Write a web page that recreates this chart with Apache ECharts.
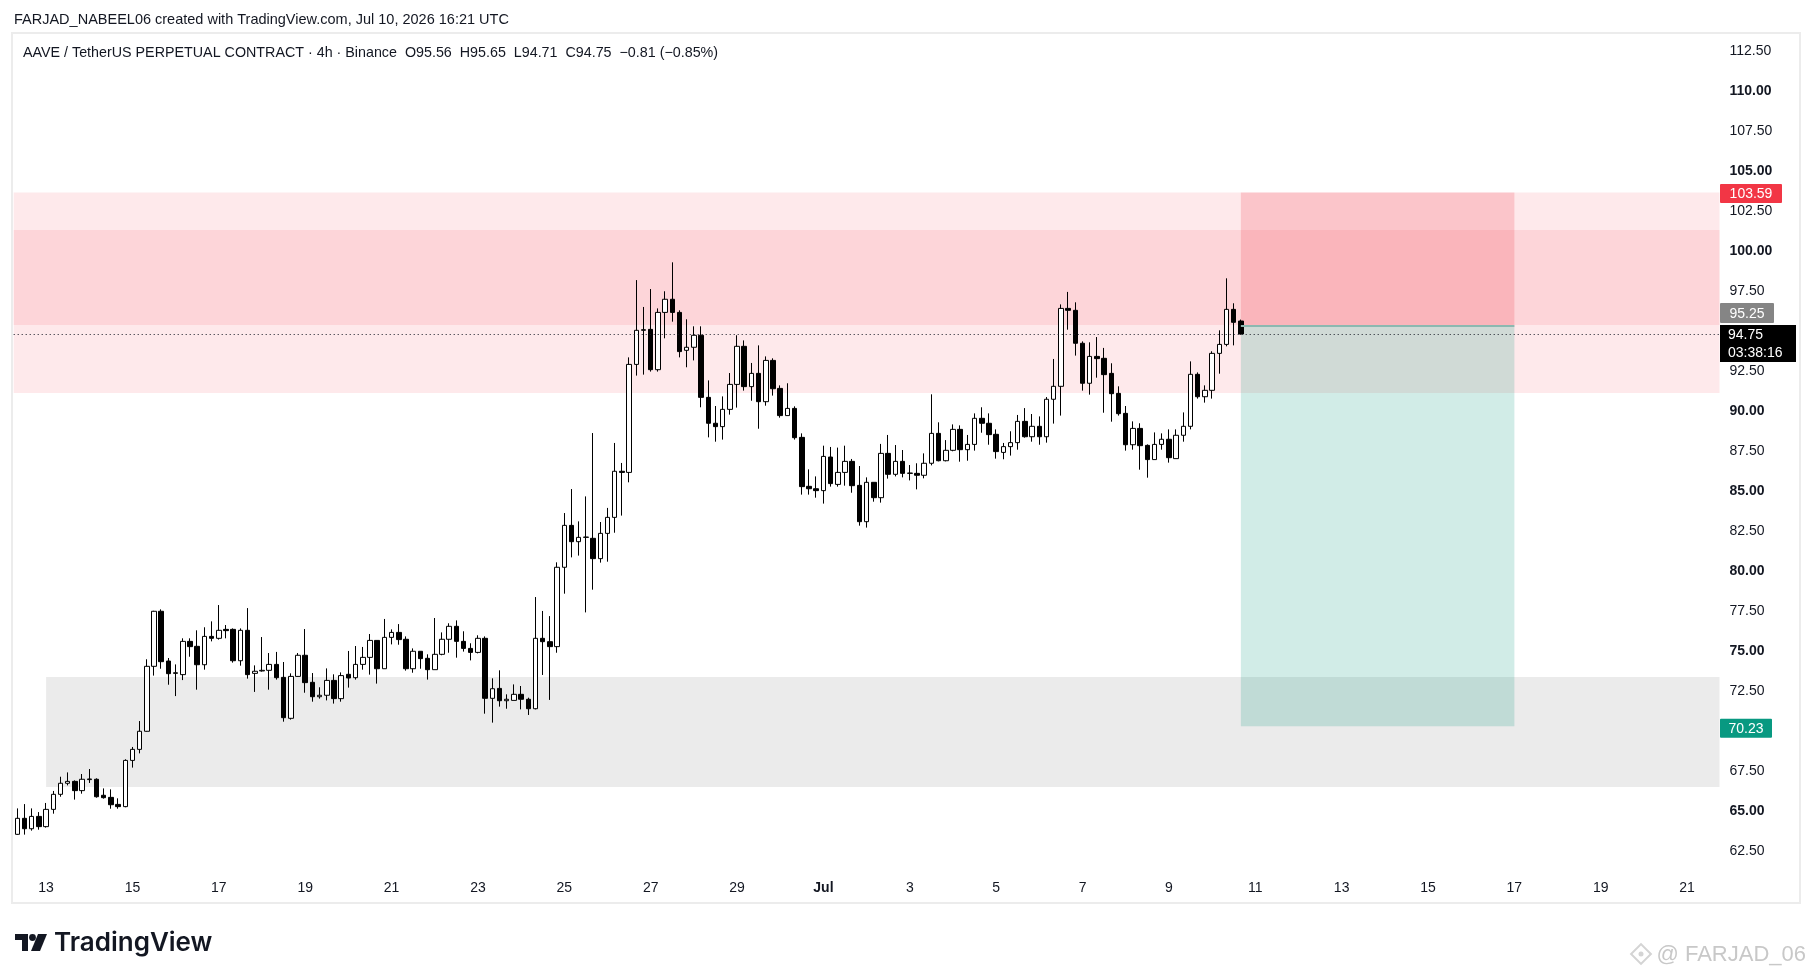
<!DOCTYPE html>
<html>
<head>
<meta charset="utf-8">
<title>AAVE / TetherUS 4h</title>
<script src="https://cdn.jsdelivr.net/npm/echarts@6/dist/echarts.min.js"></script>
<style>
  html, body { margin: 0; padding: 0; background: #fff; }
  #main { width: 1814px; height: 980px; }
</style>
</head>
<body>
<div id="main"></div>
<script>
// 4h candles, first one Jun 12 2026 08:00 UTC -- rows are [open, high, low, close]
var ohlc = [
  [63.48,65.10,63.45,64.48],[64.48,65.37,63.46,63.83],[63.83,65.10,63.71,64.60],[64.60,64.87,63.77,63.96],
  [63.96,65.44,63.90,65.04],[65.04,66.19,64.77,65.98],[65.98,67.08,65.83,66.67],[66.67,67.35,66.54,66.79],
  [66.79,66.85,65.65,66.21],[66.21,67.25,66.02,66.92],[66.90,67.56,66.69,66.94],[66.92,66.98,65.77,65.83],
  [65.92,66.35,65.71,65.77],[65.79,66.29,65.08,65.33],[65.35,65.73,65.08,65.21],[65.21,68.17,65.17,68.10],
  [68.10,68.94,67.65,68.79],[68.79,70.56,68.54,69.92],[69.92,74.42,69.90,73.98],[73.98,77.45,73.40,77.42],
  [77.42,77.54,73.83,74.27],[74.31,74.50,72.83,73.52],[73.54,74.10,72.12,73.58],[73.46,75.73,73.12,75.54],
  [75.54,75.73,74.58,75.21],[75.23,76.23,72.52,74.08],[74.08,76.42,73.77,75.85],[75.85,76.79,75.54,75.73],
  [75.73,77.81,75.65,76.23],[76.29,76.56,75.73,76.21],[76.29,76.35,74.21,74.33],[74.33,76.35,74.02,76.23],
  [76.23,77.62,73.21,73.46],[73.54,74.04,72.38,73.67],[73.69,75.81,73.65,73.73],[73.73,74.81,72.52,74.10],
  [74.10,74.88,73.15,73.27],[73.29,74.25,70.52,70.77],[70.73,73.54,70.65,73.35],[73.35,74.81,73.33,74.67],
  [74.67,76.31,72.33,72.96],[72.98,73.56,71.77,72.08],[72.08,72.67,71.96,72.17],[72.17,73.85,71.85,73.10],
  [73.10,73.48,71.65,71.96],[71.96,73.60,71.77,73.40],[73.48,74.94,72.65,73.25],[73.27,75.25,73.15,74.10],
  [74.10,75.19,73.77,74.54],[74.54,76.00,73.46,75.60],[75.60,75.60,72.90,73.83],[73.83,76.94,73.83,75.79],
  [75.79,76.29,75.35,76.10],[76.10,76.62,75.33,75.65],[75.67,75.85,73.71,73.83],[73.83,75.10,73.58,74.92],
  [74.92,74.92,73.83,74.46],[74.48,74.73,73.15,73.77],[73.77,77.00,73.77,74.73],[74.73,76.10,74.67,75.67],
  [75.67,76.67,74.83,76.48],[76.48,76.85,74.52,75.54],[75.54,76.17,74.90,75.10],[75.10,75.42,74.35,74.85],
  [74.85,75.92,74.79,75.73],[75.73,75.85,71.02,71.98],[71.98,73.23,70.46,72.58],[72.60,73.73,71.46,71.83],
  [71.83,72.23,71.33,71.92],[71.85,72.85,71.85,72.23],[72.23,72.75,71.29,71.92],[71.92,72.02,70.94,71.33],
  [71.33,78.31,71.29,75.73],[75.73,77.44,73.44,75.52],[75.52,77.12,71.88,75.21],[75.21,80.48,74.83,80.17],
  [80.17,83.56,78.52,82.79],[82.79,85.06,80.79,81.77],[81.77,83.04,80.90,82.04],[82.04,84.60,77.35,82.06],
  [81.98,88.56,78.77,80.71],[80.71,83.00,80.46,82.29],[82.29,83.88,80.52,83.29],[83.29,87.94,82.33,86.17],
  [86.17,86.69,83.40,86.10],[86.10,93.29,85.48,92.85],[92.85,98.12,92.15,94.98],[94.98,96.44,92.21,95.02],
  [95.04,97.56,92.40,92.52],[92.52,96.35,92.40,96.10],[96.10,97.42,94.48,96.92],[96.92,99.23,95.52,96.10],
  [96.10,96.23,93.29,93.65],[93.73,95.67,92.67,93.92],[93.92,95.23,93.10,94.67],[94.67,95.23,90.17,90.79],
  [90.79,91.85,88.29,89.17],[89.17,90.25,88.02,88.96],[88.96,90.85,88.15,90.04],[90.04,92.31,89.71,91.60],
  [91.60,94.67,90.15,93.98],[93.98,94.35,91.21,91.46],[91.46,92.94,90.58,92.29],[92.29,94.04,88.83,90.52],
  [90.52,93.35,90.27,93.10],[93.10,93.23,90.90,91.33],[91.35,91.54,89.52,89.65],[89.65,91.67,89.65,90.10],
  [90.10,90.23,88.15,88.27],[88.29,88.54,84.71,85.21],[85.23,86.29,84.71,85.08],[85.08,85.85,84.52,84.96],
  [84.96,87.77,84.15,87.10],[87.06,87.69,85.21,85.40],[85.35,87.65,85.21,86.10],[86.10,87.77,85.27,86.79],
  [86.79,86.94,84.83,85.27],[85.29,86.50,82.77,83.02],[83.02,85.79,82.65,85.48],[85.48,85.48,84.27,84.52],
  [84.52,87.88,84.21,87.29],[87.29,88.44,85.71,85.98],[85.98,87.81,85.85,86.79],[86.79,87.50,85.79,86.04],
  [86.04,86.56,85.60,86.06],[86.04,86.67,85.04,85.92],[85.92,87.29,85.73,86.67],[86.67,90.98,86.54,88.54],
  [88.54,89.23,86.79,86.83],[86.83,88.12,86.79,87.48],[87.48,89.10,87.42,88.79],[88.79,89.04,86.77,87.52],
  [87.52,88.44,86.83,87.85],[87.85,89.79,87.46,89.48],[89.48,90.17,88.58,89.17],[89.17,89.79,87.83,88.46],
  [88.48,88.79,86.96,87.40],[87.35,87.94,86.92,87.71],[87.71,88.67,87.15,87.96],[87.96,89.69,87.52,89.29],
  [89.29,90.12,88.27,88.33],[88.33,89.75,88.02,88.98],[88.98,89.60,87.83,88.33],[88.33,90.81,87.96,90.67],
  [90.67,93.19,89.15,91.48],[91.48,96.60,89.65,96.35],[96.35,97.38,95.02,96.23],[96.23,96.73,93.40,94.17],
  [94.17,94.29,91.21,91.67],[91.67,94.23,90.96,93.35],[93.35,94.56,92.02,93.21],[93.23,93.88,89.83,92.21],
  [92.29,92.92,89.27,91.02],[91.04,91.48,89.65,89.77],[89.79,90.25,87.46,87.83],[87.83,89.29,87.52,88.85],
  [88.85,89.17,86.27,87.77],[87.79,87.85,85.77,86.90],[86.90,88.60,86.90,87.85],[87.85,88.54,87.52,88.17],
  [88.17,88.79,86.71,87.02],[86.96,88.79,86.96,88.42],[88.42,89.85,88.02,88.98],[88.98,93.04,88.79,92.23],
  [92.23,92.35,90.71,90.83],[90.83,91.54,90.46,91.23],[91.23,93.67,90.71,93.54],[93.54,94.98,92.27,94.10],
  [94.10,98.23,93.98,96.29],[96.29,96.67,94.04,95.48],[95.56,95.65,94.71,94.75]
];

// time axis: 4h bars, plus empty space to the right
var startTime = Date.UTC(2026, 5, 12, 8);
var barCount = 237;
var firstTickIndex = 4;   // Jun 13 00:00
var tickStep = 12;        // every 2 days
var dayTicks = ['13','15','17','19','21','23','25','27','29','Jul','3','5','7','9','11','13','15','17','19','21'];

// price levels
var supplyZone = [91.06, 103.59];
var supplyCore = [95.31, 101.25];
var demandZone = [66.44, 73.31];
var demandStartIndex = 4;
var entryPrice = 95.25;
var stopPrice = 103.59;
var targetPrice = 70.23;
var positionFrom = 170;
var positionTo = 208;
var lastPrice = 94.75;

var cats = [];
for (var i = 0; i < barCount; i++) {
  var d = new Date(startTime + i * 4 * 3600 * 1000);
  cats.push(d.toISOString().slice(0, 16).replace('T', ' '));
}

var FONT = '"Liberation Sans", Arial, sans-serif';
var TXT = '#131722';

var chart = echarts.init(document.getElementById('main'));

var option = {
  animation: false,
  backgroundColor: '#ffffff',
  textStyle: { fontFamily: FONT },
  grid: { left: 13.7, right: 94.5, top: 10, bottom: 90 },
  xAxis: {
    type: 'category',
    data: cats,
    boundaryGap: true,
    axisLine: { show: false },
    axisTick: { show: false },
    splitLine: { show: false },
    axisLabel: {
      margin: -9,
      fontSize: 14,
      color: TXT,
      interval: function (idx) {
        return idx >= firstTickIndex && (idx - firstTickIndex) % tickStep === 0;
      },
      formatter: function (val, idx) {
        var t = dayTicks[(idx - firstTickIndex) / tickStep];
        if (t === 'Jul') return '{m|Jul}';
        return t || '';
      },
      rich: { m: { fontWeight: 'bold', fontSize: 14, color: TXT } }
    }
  },
  yAxis: {
    type: 'value',
    position: 'right',
    min: 60,
    max: 115,
    interval: 2.5,
    scale: true,
    axisLine: { show: false },
    axisTick: { show: false },
    splitLine: { show: false },
    axisLabel: {
      margin: 10,
      color: TXT,
      fontSize: 14,
      padding: [3, 0, 0, 0],
      formatter: function (v) {
        if (v <= 60 || v >= 115) return '';
        var s = v.toFixed(2);
        return (v % 5 === 0) ? '{b|' + s + '}' : '{n|' + s + '}';
      },
      rich: {
        b: { fontWeight: 'bold', fontSize: 14, color: TXT },
        n: { fontSize: 14, color: TXT }
      }
    }
  },
  series: [{
    type: 'candlestick',
    barWidth: 5,
    data: ohlc.map(function (r) { return [r[0], r[3], r[2], r[1]]; }),
    itemStyle: {
      color: '#ffffff',
      color0: '#000000',
      borderColor: '#000000',
      borderColor0: '#000000',
      borderWidth: 1
    },
    emphasis: { disabled: true },
    markArea: {
      silent: true,
      data: [
        [{ yAxis: supplyZone[1], itemStyle: { color: 'rgba(242,54,69,0.11)' } }, { yAxis: supplyZone[0] }],
        [{ yAxis: supplyCore[1], itemStyle: { color: 'rgba(242,54,69,0.11)' } }, { yAxis: supplyCore[0] }],
        [{ xAxis: cats[demandStartIndex], yAxis: demandZone[1], itemStyle: { color: 'rgba(120,120,120,0.15)' } }, { yAxis: demandZone[0] }],
        [{ xAxis: cats[positionFrom], yAxis: stopPrice, itemStyle: { color: 'rgba(242,54,69,0.2)' } }, { xAxis: cats[positionTo], yAxis: entryPrice }],
        [{ xAxis: cats[positionFrom], yAxis: entryPrice, itemStyle: { color: 'rgba(8,153,129,0.19)' } }, { xAxis: cats[positionTo], yAxis: targetPrice }]
      ]
    },
    markLine: {
      silent: true,
      symbol: 'none',
      label: { show: false },
      data: [
        { yAxis: lastPrice, lineStyle: { type: [1, 3], color: '#131722', width: 1 } },
        [{ coord: [cats[positionFrom], entryPrice], lineStyle: { type: 'solid', color: '#8cb8b0', width: 2 } },
         { coord: [cats[positionTo], entryPrice] }]
      ]
    }
  }]
};

chart.setOption(option);

function yPix(v) { return chart.convertToPixel({ yAxisIndex: 0 }, v); }

function priceTag(x, yc, w, h, fill, text) {
  return {
    type: 'group',
    z: 100,
    children: [
      { type: 'rect', z: 100, shape: { x: x, y: yc - h / 2, width: w, height: h, r: 1 }, style: { fill: fill } },
      { type: 'text', z: 101, x: x + w / 2, y: yc + 1, style: { text: text, fill: '#ffffff', font: '14px ' + FONT, align: 'center', verticalAlign: 'middle' } }
    ]
  };
}

var yLast = yPix(lastPrice);
chart.setOption({
  graphic: [
    // frame of the chart
    { type: 'rect', shape: { x: 12, y: 33, width: 1788, height: 870 }, style: { fill: 'none', stroke: '#ececec', lineWidth: 2 }, z: 1 },
    { type: 'text', x: 14, y: 20, style: { text: 'FARJAD_NABEEL06 created with TradingView.com, Jul 10, 2026 16:21 UTC', fill: TXT, font: '14.5px ' + FONT, verticalAlign: 'middle' } },
    { type: 'text', x: 23, y: 53, style: { text: 'AAVE / TetherUS PERPETUAL CONTRACT \u00b7 4h \u00b7 Binance  O95.56  H95.65  L94.71  C94.75  \u22120.81 (\u22120.85%)', fill: TXT, font: '14.3px ' + FONT, verticalAlign: 'middle' } },
    // price scale tags
    priceTag(1720, yPix(stopPrice) + 1, 62, 19, '#f23645', stopPrice.toFixed(2)),
    priceTag(1720, yPix(entryPrice) - 13, 54, 20, '#858585', entryPrice.toFixed(2)),
    {
      type: 'group',
      z: 100,
      children: [
        { type: 'rect', z: 100, shape: { x: 1720, y: yLast - 9, width: 76, height: 37 }, style: { fill: '#000000' } },
        { type: 'text', z: 101, x: 1728, y: yLast + 1, style: { text: lastPrice.toFixed(2), fill: '#ffffff', font: '14px ' + FONT, verticalAlign: 'middle' } },
        { type: 'text', z: 101, x: 1728, y: yLast + 19, style: { text: '03:38:16', fill: '#ffffff', font: '14px ' + FONT, verticalAlign: 'middle' } }
      ]
    },
    priceTag(1720, yPix(targetPrice) + 2, 52, 19, '#089981', targetPrice.toFixed(2)),
    // TradingView logo
    {
      type: 'group',
      children: [
        { type: 'polygon', shape: { points: [[15, 934], [28, 934], [28, 951], [22, 951], [22, 940], [15, 940]] }, style: { fill: '#131722' } },
        { type: 'circle', shape: { cx: 32.5, cy: 937.5, r: 3.4 }, style: { fill: '#131722' } },
        { type: 'polygon', shape: { points: [[38, 934], [47, 934], [40, 951], [31, 951]] }, style: { fill: '#131722' } },
        { type: 'text', x: 54, y: 943, style: { text: 'TradingView', fill: '#131722', font: '600 26px Inter, "Liberation Sans", sans-serif', verticalAlign: 'middle' } }
      ]
    },
    // watermark
    {
      type: 'group',
      children: [
        { type: 'rect', shape: { x: 1634, y: 947, width: 14, height: 14 }, rotation: Math.PI / 4, originX: 1641, originY: 954, style: { fill: 'none', stroke: '#d4d4d4', lineWidth: 2 } },
        { type: 'circle', shape: { cx: 1641, cy: 954, r: 2.5 }, style: { fill: '#d4d4d4' } },
        { type: 'text', x: 1806, y: 955, style: { text: '@ FARJAD_06', fill: '#c8c8c8', font: '22px ' + FONT, align: 'right', verticalAlign: 'middle' } }
      ]
    }
  ]
});
</script>
</body>
</html>
